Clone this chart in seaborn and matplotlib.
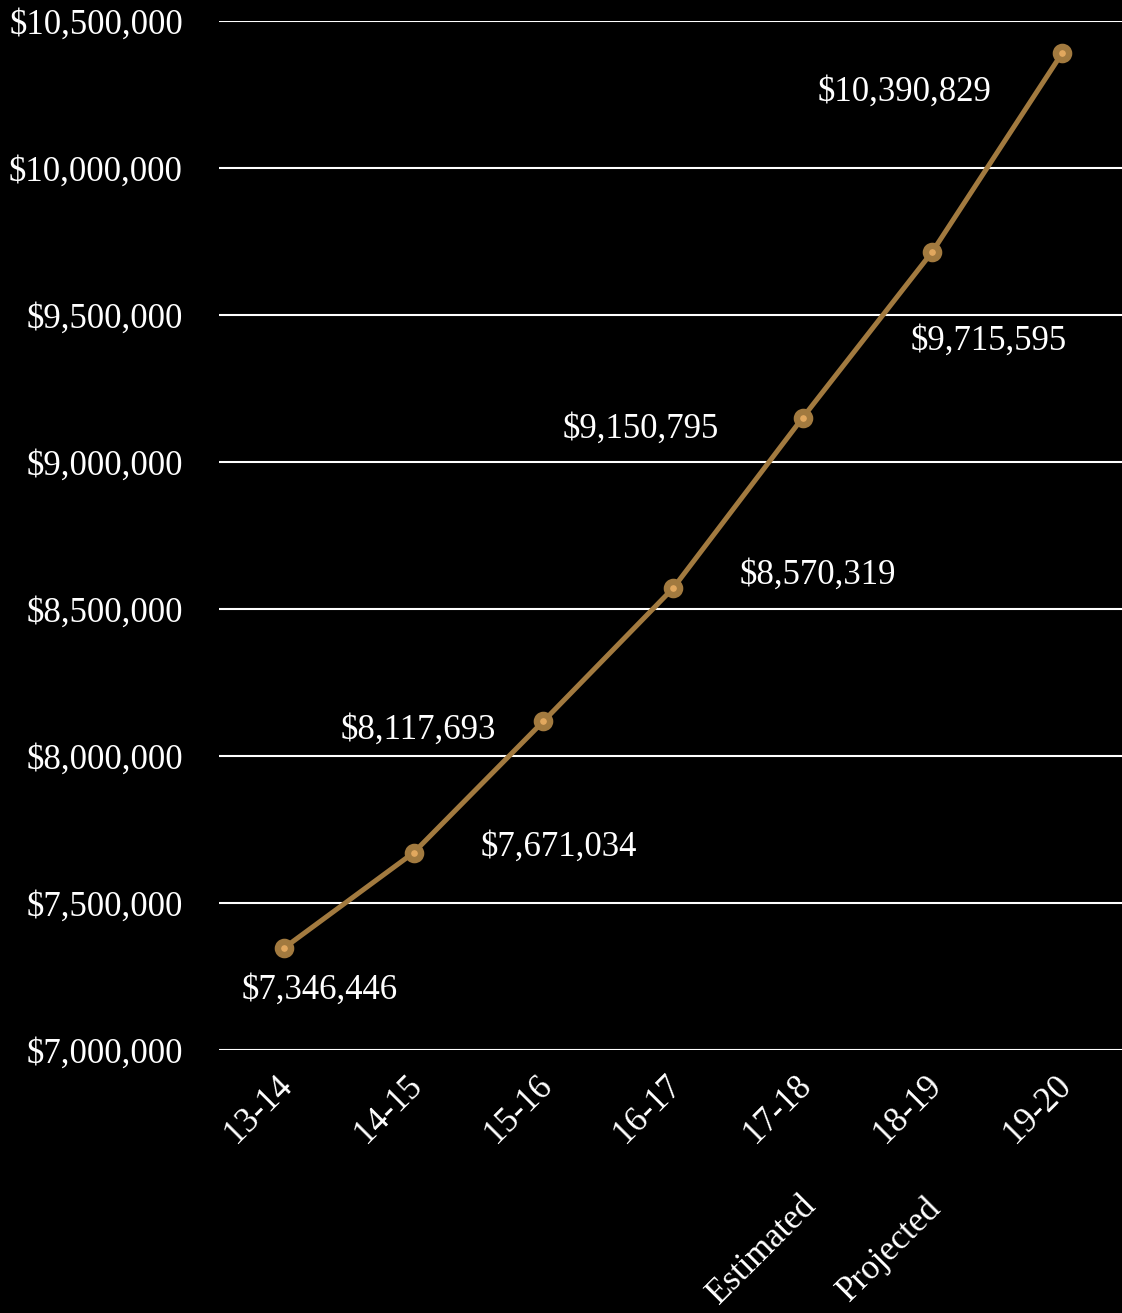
import matplotlib
matplotlib.use("Agg")
import matplotlib.pyplot as plt
import matplotlib.transforms as mtransforms
import seaborn as sns
import pandas as pd
from matplotlib.ticker import FuncFormatter, MultipleLocator

periods = ["13-14", "14-15", "15-16", "16-17", "17-18", "18-19", "19-20"]
values = [7346446, 7671034, 8117693, 8570319, 9150795, 9715595, 10390829]
sub_labels = {"17-18": "Estimated", "18-19": "Projected"}

# label offsets in pixels (dx, dy) relative to each point
label_offsets = [(36, -42), (145, 5), (-125, -9), (145, 13), (-162, -12), (56, -90), (-158, -39)]

sns.set_theme(style="dark")
plt.rcParams["font.family"] = ["Liberation Serif", "DejaVu Serif"]

FONT = 25
LINE_C = "#A27A3F"
FACE_C = "#E2A85E"

df = pd.DataFrame({"period": periods, "value": values})

fig = plt.figure(figsize=(11.22, 13.13), dpi=100, facecolor="black")
ax = fig.add_axes([219 / 1122, (1313 - 1050) / 1313, 908 / 1122, (1050 - 21) / 1313])
ax.set_facecolor("black")

sns.lineplot(data=df, x="period", y="value", ax=ax, color=LINE_C, linewidth=3.6,
             marker="o", markersize=9.5, markerfacecolor=FACE_C,
             markeredgecolor=LINE_C, markeredgewidth=4.6, zorder=3)

ax.set_xlim(-0.5, 6.5)
ax.set_ylim(7000000, 10500000)
ax.yaxis.set_major_locator(MultipleLocator(500000))
ax.yaxis.set_major_formatter(FuncFormatter(lambda v, p: f"${v:,.0f}"))
ax.grid(axis="y", color="white", linewidth=1.5)
ax.grid(axis="x", visible=False)
for s in ax.spines.values():
    s.set_visible(False)
ax.set_xlabel("")
ax.set_ylabel("")
ax.tick_params(axis="y", colors="white", labelsize=FONT, pad=26, length=0)
ax.tick_params(axis="x", colors="white", labelsize=FONT, pad=14, length=0)
ax.set_xticks(range(len(periods)))
ax.set_xticklabels(periods, rotation=45, ha="right", rotation_mode="anchor")
shift = mtransforms.ScaledTranslation(-8 / 100, 0, fig.dpi_scale_trans)
for lab in ax.get_xticklabels():
    lab.set_transform(lab.get_transform() + shift)
for lab in ax.get_yticklabels():
    lab.set_color("white")

sub_shift = {"17-18": (-3, -139), "18-19": (-8, -141)}
for i, (p, v) in enumerate(zip(periods, values)):
    dx, dy = label_offsets[i]
    ax.annotate(f"${v:,.0f}", xy=(i, v), xytext=(dx, dy), textcoords="offset pixels",
                ha="center", va="center", color="white", fontsize=FONT)
    if p in sub_labels:
        ax.annotate(sub_labels[p], xy=(i, 0), xycoords=("data", "axes fraction"),
                    xytext=sub_shift[p], textcoords="offset pixels",
                    ha="right", va="top", rotation=45, rotation_mode="anchor",
                    color="white", fontsize=FONT)

fig.savefig("out.png", dpi=100, facecolor="black")
